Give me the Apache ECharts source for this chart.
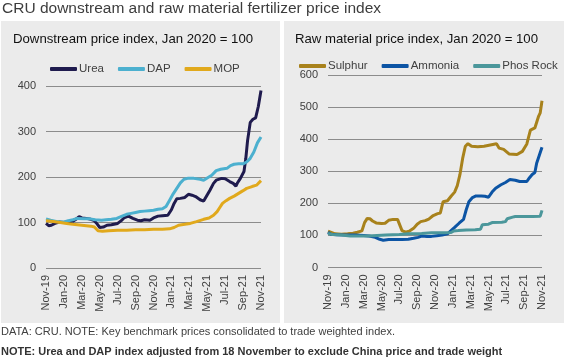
<!DOCTYPE html>
<html><head><meta charset="utf-8">
<script src="https://cdn.jsdelivr.net/npm/echarts@6/dist/echarts.min.js"></script>
<style>html,body{margin:0;padding:0;background:#fff}#c{width:564px;height:359px}</style>
</head><body><div id="c"></div>
<script>
// x tick labels (every 2 months, month index 0 = Nov-19)
const tickLabels = ['Nov-19','Jan-20','Mar-20','May-20','Jul-20','Sep-20','Nov-20','Jan-21','Mar-21','May-21','Jul-21','Sep-21','Nov-21'];

// Downstream (month index, value)
const ureaM = [0,0.3,0.6,1.0,1.5,2.0,2.5,3.0,3.4,3.7,4.0,4.5,5.0,5.4,5.7,6.0,6.4,6.8,7.3,8.0,8.4,8.7,9.2,9.7,10.2,10.6,11.0,11.6,12.0,12.5,13.0,13.6,14.0,14.3,14.6,15.0,15.5,15.9,16.3,16.7,17.2,17.6,17.8,18.3,18.7,19.0,19.6,20.0,20.5,20.9,21.2,21.4,21.7,22.1,22.3,22.5,22.8,23.1,23.4,23.7,24.0];
const ureaV = [98,93,94,98,101,100,101,103,108,113,110,109,107,104,97,89,90,94,95,98,104,110,114,109,105,104,106,105,110,114,115,116,128,142,152,153,155,162,160,157,150,147,151,171,186,193,197,196,190,186,180,188,197,212,240,280,320,327,330,355,390];
const dapM = [0,0.5,1.0,1.5,2.0,2.5,3.0,3.5,4.2,4.9,5.5,6.2,6.7,7.3,7.9,8.5,9.0,9.5,10.0,10.5,11.0,11.5,12.0,12.5,13.0,13.4,13.8,14.2,14.6,15.0,15.4,15.8,16.5,17.2,17.6,18.0,18.5,19.0,19.5,20.2,20.6,21.0,21.5,22.0,22.4,22.8,23.2,23.6,24.0];
const dapV = [108,105,103,101,101,104,106,109,108,108,106,105,106,107,109,114,118,120,122,124,125,126,127,129,130,135,149,163,175,187,195,197,197,195,193,198,204,214,217,219,225,228,229,229,233,241,255,275,288];
const mopM = [0,0.8,1.6,2.3,3.0,4.0,5.0,5.4,5.8,6.3,7.0,8.0,9.0,10.0,11.0,12.0,13.0,13.8,14.3,14.8,15.5,16.1,16.8,17.6,18.2,18.7,19.1,19.4,19.7,20.1,20.5,21.0,21.5,22.0,22.4,23.0,23.5,24.0];
const mopV = [104,102,100,98,96,94,92,90,82,81,82,83,83,84,84,85,85,86,89,94,96,98,102,107,110,116,124,133,142,148,153,158,164,170,175,179,182,192];

// Raw material (month index, value)
const sulphurM = [0,0.2,0.8,1.5,2.2,2.8,3.3,3.8,4.1,4.4,4.7,5.0,5.4,6.0,6.4,6.8,7.3,7.8,8.0,8.3,8.7,9.1,9.6,10.0,10.4,10.9,11.3,11.8,12.3,12.6,12.9,13.4,13.8,14.2,14.5,14.8,15.1,15.4,15.7,16.1,16.8,17.5,18.2,18.9,19.2,19.7,20.3,21.2,21.8,22.3,22.7,23.2,23.6,23.8,24.0];
const sulphurV = [113,108,105,104,105,107,110,114,140,153,152,145,139,137,138,147,150,150,145,115,110,113,122,135,143,146,151,162,168,170,205,208,222,235,255,290,340,378,386,378,376,378,382,386,372,368,354,352,362,385,428,435,470,482,520];
const ammoniaM = [0,0.3,1.0,2.0,3.0,4.0,4.6,5.3,5.8,6.2,6.8,7.5,8.3,9.0,9.6,10.1,10.5,11.1,11.6,12.2,12.8,13.4,13.8,14.2,14.7,15.2,15.5,15.8,16.2,16.6,17.2,17.6,18.0,18.4,18.8,19.4,19.9,20.4,21.0,21.5,22.3,22.6,22.9,23.2,23.4,23.7,24.0];
const ammoniaV = [110,104,102,101,101,100,98,94,88,85,87,87,87,88,91,94,98,97,97,99,101,105,115,125,138,150,180,205,218,223,223,222,219,235,247,258,265,274,272,268,268,280,290,296,325,350,375];
const phosM = [0,0.5,1.5,2.5,4.5,6.5,8.0,9.0,10.5,11.6,13.0,13.8,14.1,14.6,15.5,16.5,17.1,17.3,18.0,18.4,19.5,19.9,20.1,20.7,21.0,22.0,23.0,23.8,24.0];
const phosV = [106,103,101,98,98,101,103,105,106,108,108,109,114,115,117,118,119,133,135,140,141,143,152,157,159,159,159,160,178];

const FONT = '"Liberation Sans", Arial, sans-serif';
const pairs = (m, v) => m.map((x, i) => [x, v[i]]);

function xAxis(gi) {
  return {
    type: 'value', gridIndex: gi, min: 0, max: 24, interval: 2,
    axisLine: { show: false }, axisTick: { show: false }, splitLine: { show: false },
    axisLabel: { rotate: 90, margin: 7, color: '#404040', fontSize: 11, fontFamily: FONT,
      formatter: v => tickLabels[Math.round(v / 2)] || '' }
  };
}
function yAxis(gi, max) {
  return {
    type: 'value', gridIndex: gi, min: 0, max: max, interval: 100,
    axisLine: { show: false }, axisTick: { show: false },
    splitLine: { lineStyle: { color: '#8c8c8c', width: 1 } },
    axisLabel: { margin: 10, color: '#404040', fontSize: 11, fontFamily: FONT }
  };
}
function line(name, m, v, color, gi) {
  return { name, type: 'line', xAxisIndex: gi, yAxisIndex: gi, data: pairs(m, v),
    showSymbol: false, symbol: 'none', lineStyle: { color, width: 3 }, itemStyle: { color }, z: 3 };
}
const legendBase = { icon: 'roundRect', itemWidth: 27, itemHeight: 4, itemGap: 14, width: 270, orient: 'horizontal',
  padding: 0, textStyle: { color: '#404040', fontSize: 11.5, fontFamily: FONT, padding: [0, 0, 0, -3] } };

const chart = echarts.init(document.getElementById('c'), null, { renderer: 'canvas' });
chart.setOption({
  animation: false,
  backgroundColor: '#ffffff',
  graphic: [
    { type: 'rect', left: 1, top: 21, shape: { width: 279, height: 302 }, style: { fill: '#ebebeb' }, z: -10 },
    { type: 'rect', left: 284, top: 21, shape: { width: 280, height: 302 }, style: { fill: '#ebebeb' }, z: -10 },
    { type: 'text', left: 2, top: 1, style: { text: 'CRU downstream and raw material fertilizer price index', fill: '#3d3d3d', font: '15.5px ' + FONT } },
    { type: 'text', left: 13, top: 33, style: { text: 'Downstream price index, Jan 2020 = 100', fill: '#111', font: '13.2px ' + FONT } },
    { type: 'text', left: 295, top: 33, style: { text: 'Raw material price index, Jan 2020 = 100', fill: '#111', font: '13.2px ' + FONT } },
    { type: 'text', left: 1, top: 326, style: { text: 'DATA: CRU. NOTE: Key benchmark prices consolidated to trade weighted index.', fill: '#404040', font: '11px ' + FONT } },
    { type: 'text', left: 1, top: 346, style: { text: 'NOTE: Urea and DAP index adjusted from 18 November to exclude China price and trade weight', fill: '#333', font: 'bold 11px ' + FONT } }
  ],
  legend: [
    Object.assign({}, legendBase, { left: 50, top: 63, data: ['Urea', 'DAP', 'MOP'] }),
    Object.assign({}, legendBase, { left: 299, top: 60, data: ['Sulphur', 'Ammonia', 'Phos Rock'] })
  ],
  grid: [
    { left: 46, width: 215, top: 86, height: 182 },
    { left: 328, width: 214, top: 75, height: 192.5 }
  ],
  xAxis: [xAxis(0), xAxis(1)],
  yAxis: [yAxis(0, 400), yAxis(1, 600)],
  series: [
    line('Urea', ureaM, ureaV, '#1f1b4e', 0),
    line('DAP', dapM, dapV, '#4cb0cf', 0),
    line('MOP', mopM, mopV, '#e1a91c', 0),
    line('Sulphur', sulphurM, sulphurV, '#a8821c', 1),
    line('Ammonia', ammoniaM, ammoniaV, '#0c54a4', 1),
    line('Phos Rock', phosM, phosV, '#4b979b', 1)
  ]
});
</script></body></html>
